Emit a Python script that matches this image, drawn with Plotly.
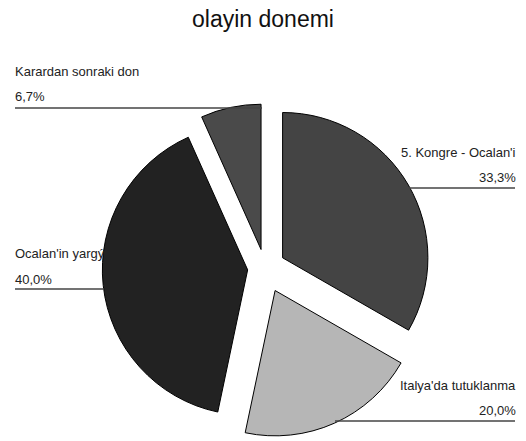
import plotly.graph_objects as go

labels = ["5. Kongre - Ocalan'i", "Italya'da tutuklanma", "Ocalan'in yargýlanma", "Karardan sonraki don"]
values = [33.3, 20.0, 40.0, 6.7]
pct_text = ["33,3%", "20,0%", "40,0%", "6,7%"]
colors = ["#444444", "#b6b6b6", "#222222", "#4a4a4a"]
pulls = [0.14, 0.17, 0.12, 0.13]

W, H = 526, 441
fig = go.Figure()
fig.add_trace(go.Pie(
    labels=labels, values=values, sort=False, direction="clockwise", rotation=0,
    pull=pulls, textinfo="none", hoverinfo="label+percent",
    marker=dict(colors=colors, line=dict(color="#000000", width=1)),
    domain=dict(x=[95 / W, 435 / W], y=[1 - 438 / H, 1 - 98 / H]),
    showlegend=False,
))

def px(x):
    return x / W

def py(y):
    return 1 - y / H

font = dict(family="Liberation Sans, Arial, sans-serif", size=13, color="#222222")
# label specs: (name, pct, anchor side, x_text, y_name, y_pct, line_y, line_x0, line_x1)
specs = [
    (labels[3], pct_text[3], "left", 13, 71, 97, 108, 15, 262),
    (labels[2], pct_text[2], "left", 13, 253, 279, 289, 15, 104),
    (labels[0], pct_text[0], "right", 518, 152, 178, 188, 405, 515),
    (labels[1], pct_text[1], "right", 518, 385, 410, 421, 335, 515),
]
annotations = []
shapes = []
for name, pct, side, xt, yn, yp, ly, lx0, lx1 in specs:
    for txt, yy in ((name, yn), (pct, yp)):
        annotations.append(dict(
            x=px(xt), y=py(yy), xref="paper", yref="paper", text=txt, showarrow=False,
            xanchor=side, yanchor="middle", font=font,
        ))
    shapes.append(dict(type="line", xref="paper", yref="paper",
                       x0=px(lx0), x1=px(lx1), y0=py(ly), y1=py(ly),
                       line=dict(color="#444444", width=1.5)))

fig.update_layout(
    width=W, height=H,
    margin=dict(l=0, r=0, t=0, b=0),
    paper_bgcolor="white", plot_bgcolor="white",
    title=dict(text="olayin donemi", x=0.5, xanchor="center", y=py(19), yanchor="middle",
               font=dict(family="Liberation Sans, Arial, sans-serif", size=23, color="#111111")),
    annotations=annotations, shapes=shapes,
)
fig.write_html("out.html", config={"displayModeBar": False},
               post_script="document.body.style.margin='0';document.body.style.overflow='hidden';")
